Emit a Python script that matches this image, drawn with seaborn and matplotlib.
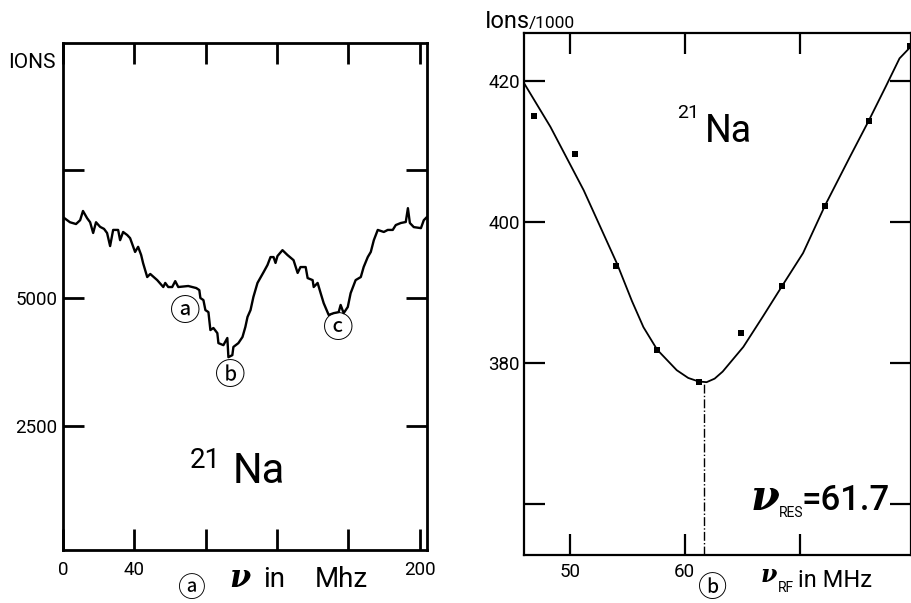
import matplotlib
matplotlib.use("Agg")
import matplotlib.pyplot as plt
import seaborn as sns
import pandas as pd

# ---------------- data: panel (a) ion count trace ----------------
freq_a = [0, 3.9, 7.3, 9.6, 11.2, 13.5, 15.2, 16.9, 18.5, 20.8, 23.0, 24.7, 26.4, 28.1,
          30.9, 32.0, 33.7, 36.0, 37.6, 40.4, 42.1, 43.8, 44.9, 47.2, 48.9, 52.8, 56.2,
          57.3, 59.0, 61.2, 62.9, 64.6, 70.2, 74.7, 76.4, 77.0, 78.7, 79.8, 81.5, 82.6,
          84.3, 86.5, 87.1, 89.9, 92.1, 92.7, 94.9, 95.5, 98.3, 100.6, 102.2, 103.4,
          105.1, 106.7, 109.0, 112.4, 114.6, 116.3, 118.0, 119.1, 120.2, 123.0, 125.8,
          129.2, 131.5, 133.1, 136.0, 137.1, 139.9, 140.5, 142.7, 144.4, 146.1, 148.9,
          151.7, 154.5, 155.6, 157.3, 159.6, 161.2, 164.0, 166.9, 168.5, 170.8, 172.5,
          174.2, 176.4, 179.8, 182.0, 184.8, 186.5, 189.3, 192.1, 193.3, 194.4, 196.6,
          200.6, 202.2, 203.9]
ions_a = [6580, 6480, 6445, 6520, 6700, 6560, 6480, 6270, 6480, 6390, 6350, 6270, 6015,
          6330, 6330, 6130, 6290, 6230, 6170, 5900, 6000, 5840, 5680, 5410, 5470, 5350,
          5215, 5295, 5215, 5215, 5330, 5215, 5235, 5195, 5155, 5000, 4960, 4765, 4725,
          4375, 4415, 4315, 4120, 4080, 4220, 3845, 3885, 4045, 4120, 4240, 4435, 4630,
          4765, 5020, 5295, 5505, 5645, 5800, 5800, 5685, 5820, 5935, 5840, 5740, 5490,
          5605, 5605, 5390, 5350, 5215, 5295, 5095, 4900, 4670, 4705, 4725, 4865, 4705,
          4825, 5095, 5350, 5410, 5605, 5800, 5900, 6130, 6330, 6290, 6330, 6330, 6425,
          6465, 6485, 6755, 6465, 6385, 6365, 6520, 6580]
xticks_a = [0, 40, 80, 120, 160, 200]
xlabels_a = ['0', '40', '', '', '', '200']
yticks_a = [2500, 5000, 7500]
ylabels_a = ['2500', '5000', '']
peak_labels = ['ⓐ', 'ⓑ', 'ⓒ']
peak_freq = [68.5, 93.8, 154.5]
peak_ions = [4726, 3476, 4394]

# ---------------- data: panel (b) resonance ----------------
rf_freq = [46.9, 50.4, 54.0, 57.6, 61.2, 64.9, 68.5, 72.2, 76.0, 79.6]
rf_ions = [415.1, 409.6, 393.8, 381.9, 377.3, 384.3, 391.0, 402.3, 414.3, 425.0]
fit_freq = [46.0, 48.3, 51.2, 54.1, 55.4, 56.4, 57.6, 59.3, 60.3, 61.2, 61.9, 62.6, 63.3,
            65.1, 66.8, 68.5, 70.3, 72.2, 74.4, 76.0, 77.5, 78.7, 79.7]
fit_ions = [419.7, 413.5, 404.5, 394.1, 388.8, 385.1, 381.9, 379.0, 377.9, 377.4, 377.3,
            377.8, 378.8, 382.3, 386.6, 391.0, 395.6, 402.3, 409.3, 414.3, 419.2, 423.2,
            424.9]
res_freq = 61.7
res_min = 377.3
xticks_b = [50, 60, 70]
xlabels_b = ['50', '60', '']
yticks_b = [360, 380, 400, 420]
ylabels_b = ['', '380', '400', '420']

# ---------------- style ----------------
sns.set_theme(style="ticks")
plt.rcParams['font.family'] = ['Roboto', 'DejaVu Sans']
plt.rcParams['axes.edgecolor'] = 'black'
plt.rcParams['text.color'] = 'black'
plt.rcParams['xtick.color'] = 'black'
plt.rcParams['ytick.color'] = 'black'

W, H = 912, 603
fig = plt.figure(figsize=(W / 100, H / 100), dpi=100)
fig.patch.set_facecolor('white')


def box(l, t, r, b):
    return [l / W, 1 - b / H, (r - l) / W, (b - t) / H]


def px(x, y):
    return x / W, 1 - y / H


serif_bi = dict(family=['DejaVu Serif'], weight='bold', style='italic')
circ = dict(family=['Noto Sans CJK JP', 'DejaVu Sans'])

# ---------------- panel (a) ----------------
axL = fig.add_axes(box(63, 43, 427, 550))
dfa = pd.DataFrame({'freq': freq_a, 'ions': ions_a})
sns.lineplot(data=dfa, x='freq', y='ions', ax=axL, color='black', lw=1.7,
             sort=False, estimator=None)
axL.set_xlim(0, 204)
axL.set_ylim(80, 9980)
axL.set_xticks(xticks_a, xlabels_a)
axL.set_yticks(yticks_a, ylabels_a)
axL.set_xlabel('')
axL.set_ylabel('')
for s in axL.spines.values():
    s.set_visible(True)
    s.set_linewidth(2)
axL.tick_params(direction='in', length=15, width=2, top=True, right=True,
                labelsize=13.5)
axL.tick_params(axis='x', pad=8)
axL.tick_params(axis='y', pad=4)
for lab, f, v in zip(peak_labels, peak_freq, peak_ions):
    axL.text(f, v, lab, ha='center', va='center', fontsize=22, **circ)
axL.text(71.3, 1680, '21', fontsize=20, ha='left', va='baseline')
axL.text(95, 1387, 'Na', fontsize=30, ha='left', va='baseline')

fig.text(*px(56, 68), 'IONS', fontsize=15, ha='right', va='baseline')
fig.text(*px(229, 587), 'ν', fontsize=22, ha='left', va='baseline', **serif_bi)
fig.text(*px(263, 587), 'in', fontsize=20, ha='left', va='baseline')
fig.text(*px(315, 587), 'Mhz', fontsize=20, ha='left', va='baseline')
fig.text(*px(191, 589), 'ⓐ', fontsize=20, ha='center', va='center', **circ)

# ---------------- panel (b) ----------------
axR = fig.add_axes(box(524, 33, 911, 555))
dff = pd.DataFrame({'freq': fit_freq, 'ions': fit_ions})
sns.lineplot(data=dff, x='freq', y='ions', ax=axR, color='black', lw=1.3,
             sort=False, estimator=None)
dfp = pd.DataFrame({'freq': rf_freq, 'ions': rf_ions})
sns.scatterplot(data=dfp, x='freq', y='ions', ax=axR, color='black', marker='s',
                s=18, linewidth=0, zorder=3)
axR.set_xlim(46, 79.7)
axR.set_ylim(352.8, 426.8)
axR.vlines(res_freq, axR.get_ylim()[0], res_min, colors='black', linestyles='-.',
           lw=1.0)
axR.set_xticks(xticks_b, xlabels_b)
axR.set_yticks(yticks_b, ylabels_b)
axR.set_xlabel('')
axR.set_ylabel('')
for s in axR.spines.values():
    s.set_visible(True)
    s.set_linewidth(1.6)
axR.tick_params(direction='in', length=15, width=1.6, top=True, right=True,
                labelsize=13.5)
axR.tick_params(axis='x', pad=6)
axR.tick_params(axis='y', pad=3)
axR.text(59.3, 414.75, '21', fontsize=14, ha='left', va='baseline')
axR.text(61.74, 411.35, 'Na', fontsize=27, ha='left', va='baseline')
axR.text(65.7, 359.15, 'ν', fontsize=30, ha='left', va='baseline', **serif_bi)
axR.text(68.2, 358.2, 'RES', fontsize=10, ha='left', va='baseline')
axR.text(70.2, 359.15, '=61.7', fontsize=25, ha='left', va='baseline',
         weight='medium')

fig.text(*px(485, 28), 'Ions', fontsize=17, ha='left', va='baseline')
fig.text(*px(529, 28), '/1000', fontsize=12.5, ha='left', va='baseline')
fig.text(*px(761, 582), 'ν', fontsize=17, ha='left', va='baseline', **serif_bi)
fig.text(*px(778, 592), 'RF', fontsize=10, ha='left', va='baseline')
fig.text(*px(798, 587), 'in MHz', fontsize=17, ha='left', va='baseline')
fig.text(*px(713, 589), 'ⓑ', fontsize=21, ha='center', va='center', **circ)

fig.savefig('out.png', dpi=100, facecolor='white')
